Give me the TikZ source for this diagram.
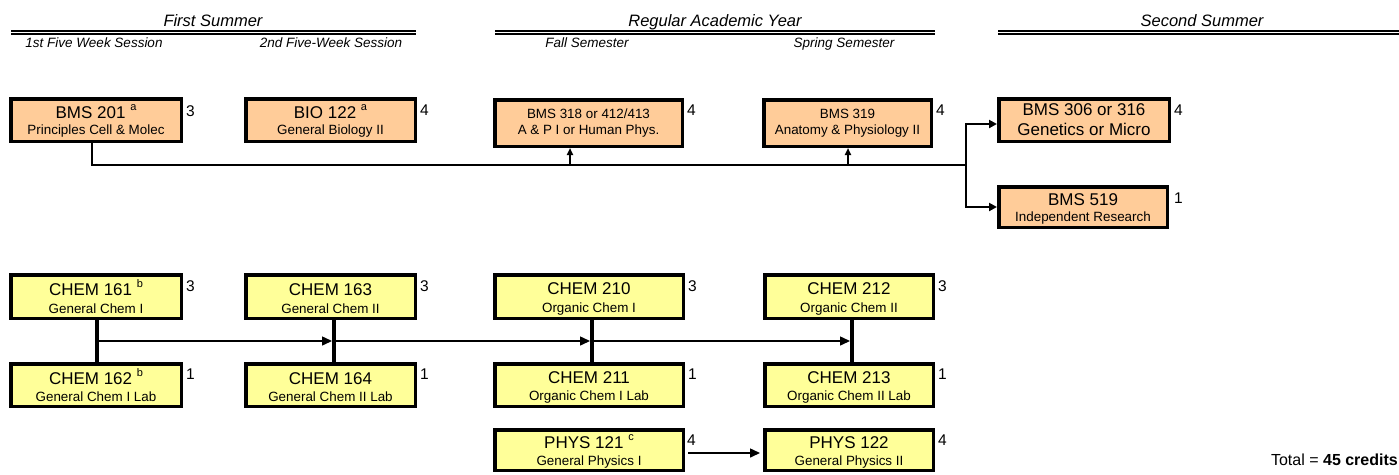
\documentclass[tikz,border=0pt]{standalone}
\usepackage{fontspec}
\setmainfont{Liberation Sans}
\usetikzlibrary{arrows.meta}
\usetikzlibrary{positioning}
\definecolor{bmsfill}{HTML}{FFCC99}
\definecolor{chemfill}{HTML}{FFFF99}
\newcommand{\cname}[1]{{\fontsize{17}{19}\selectfont\rule{0pt}{16.5pt}#1}}
\newcommand{\fnote}[1]{\raisebox{8pt}{\fontsize{11}{11}\selectfont #1}}

\begin{document}
\begin{tikzpicture}[x=1pt, y=-1pt,
		course/.style={draw, line width=3.5pt, inner sep=1pt, align=center, font=\fontsize{13.4}{16}\selectfont},
		bms/.style={course, fill=bmsfill},
		chem/.style={course, fill=chemfill, font=\fontsize{13.4}{17.5}\selectfont},
		credit/.style={anchor=north west, inner sep=0pt, font=\fontsize{15.5}{16}\selectfont},
		head/.style={anchor=base, font=\fontsize{16.5}{18}\selectfont\itshape},
		subhead/.style={anchor=base, font=\fontsize{13.5}{15}\selectfont\itshape},
		rule/.style={line width=2pt},
		feed/.style={line width=2pt},
		link/.style={line width=3.5pt},
		seq/.style={line width=1.5pt, -{Triangle[length=10pt, width=9pt]}, shorten >=2pt}]
		\useasboundingbox (0,0) rectangle (1399,474);

		% headings
		\node[head] (sum1) at (213,26) {First Summer};
		\node[head] (year) at (715,26) {Regular Academic Year};
		\node[head] (sum2) at (1202,26) {Second Summer};
		\foreach \a/\b in {11/416, 495/935, 998/1399} {
			\draw[rule] (\a,30.5) -- (\b,30.5);
			\draw[rule] (\a,33.5) -- (\b,33.5);
		}
		\node[subhead] (ses1) at (94,47) {1st Five Week Session};
		\node[subhead] (ses2) at (331,47) {2nd Five-Week Session};
		\node[subhead] (fall) at (587,47) {Fall Semester};
		\node[subhead] (spring) at (844,47) {Spring Semester};

		% biology track
		\node[bms, minimum width=170.5, minimum height=42.5] (bms201) at (96,120) {\cname{BMS 201 \fnote{a}}\\Principles Cell \& Molec};
		\node[bms, minimum width=169.5, minimum height=42.5] (bio122) at (330.5,120) {\cname{BIO 122 \fnote{a}}\\General Biology II};
		\node[bms, minimum width=187.5, minimum height=46.5] (bms318) at (588.5,123) {BMS 318 or 412/413\\A \& P I or Human Phys.};
		\node[bms, minimum width=167.5, minimum height=46.5] (bms319) at (847.5,123) {BMS 319\\Anatomy \& Physiology II};
		\node[bms, minimum width=170.5, minimum height=42.5, font=\fontsize{17}{20}\selectfont] (bms306) at (1084,120) {BMS 306 or 316\\Genetics or Micro};
		\node[bms, minimum width=168.5, minimum height=40.5] (bms519) at (1083,207) {\cname{BMS 519}\\Independent Research};

		\node[credit] (cr201) at ([shift={(3,8)}]bms201.north east) {3};
		\node[credit] (cr122) at ([shift={(3,8)}]bio122.north east) {4};
		\node[credit] (cr318) at ([shift={(3,7)}]bms318.north east) {4};
		\node[credit] (cr319) at ([shift={(3,7)}]bms319.north east) {4};
		\node[credit] (cr306) at ([shift={(3,8)}]bms306.north east) {4};
		\node[credit] (cr519) at ([shift={(5,8)}]bms519.north east) {1};

		\coordinate (bend) at (92,165);
		\coordinate (split) at (966,165);
		\coordinate (up318) at (570,165);
		\coordinate (up319) at (848,165);
		\draw[feed] (bms201.south -| bend) -- (bend) -- (split);
		\draw[feed, -{Triangle[length=8pt, width=8pt]}] (split) |- ([yshift=-4pt]bms306.west);
		\draw[feed, -{Triangle[length=8pt, width=8pt]}] (split) |- (bms519.west);
		\draw[feed, -{Triangle[length=7pt, width=6pt]}] (up318) -- (up318 |- bms318.south);
		\draw[feed, -{Triangle[length=7pt, width=6pt]}] (up319) -- (up319 |- bms319.south);

		% chemistry track
		\node[chem, minimum width=170.5, minimum height=43.5] (chem161) at (96,296.5) {\cname{CHEM 161 \fnote{b}}\\General Chem I};
		\node[chem, minimum width=170.5, minimum height=42.5, below=42pt of chem161] (chem162) {\cname{CHEM 162 \fnote{b}}\\General Chem I Lab};
		\node[chem, minimum width=169.5, minimum height=43.5] (chem163) at (330.5,296.5) {\cname{CHEM 163}\\General Chem II};
		\node[chem, minimum width=169.5, minimum height=42.5, below=42pt of chem163] (chem164) {\cname{CHEM 164}\\General Chem II Lab};
		\node[chem, minimum width=188.5, minimum height=43.5] (chem210) at (589,296.5) {\cname{CHEM 210}\\Organic Chem I};
		\node[chem, minimum width=188.5, minimum height=42.5, below=42pt of chem210] (chem211) {\cname{CHEM 211}\\Organic Chem I Lab};
		\node[chem, minimum width=168.5, minimum height=43.5] (chem212) at (849,296.5) {\cname{CHEM 212}\\Organic Chem II};
		\node[chem, minimum width=168.5, minimum height=42.5, below=42pt of chem212] (chem213) {\cname{CHEM 213}\\Organic Chem II Lab};

		\foreach \c/\n in {chem161/3, chem162/1, chem163/3, chem164/1, chem210/3, chem211/1, chem212/3, chem213/1}
			\node[credit] (cr\c) at ([shift={(3,7)}]\c.north east) {\n};

		\coordinate (c1) at (97,341);
		\coordinate (c2) at (334,341);
		\coordinate (c3) at (592,341);
		\coordinate (c4) at (852,341);
		\draw[link] (c1 |- chem161.south) -- (c1 |- chem162.north);
		\draw[link] (c2 |- chem163.south) -- (c2 |- chem164.north);
		\draw[link] (c3 |- chem210.south) -- (c3 |- chem211.north);
		\draw[link] (c4 |- chem212.south) -- (c4 |- chem213.north);
		\draw[seq] (c1) -- (c2);
		\draw[seq] (c2) -- (c3);
		\draw[seq] (c3) -- (c4);

		% physics
		\node[chem, minimum width=188.5, minimum height=40.5] (phys121) at (589,450) {\cname{PHYS 121 \fnote{c}}\\General Physics I};
		\node[chem, minimum width=168.5, minimum height=40.5] (phys122) at (849,450) {\cname{PHYS 122}\\General Physics II};
		\node[credit] (cr121) at ([shift={(2,7)}]phys121.north east) {4};
		\node[credit] (cr122b) at ([shift={(3,7)}]phys122.north east) {4};
		\draw[seq, shorten >=3pt] ([shift={(3,3)}]phys121.east) -- ([yshift=-3pt]phys122.west);

		\node[anchor=base east, inner sep=0pt, font=\fontsize{16}{18}\selectfont] (total) at (1398,465) {Total = \textbf{45 credits}};
	\end{tikzpicture}
\end{document}
